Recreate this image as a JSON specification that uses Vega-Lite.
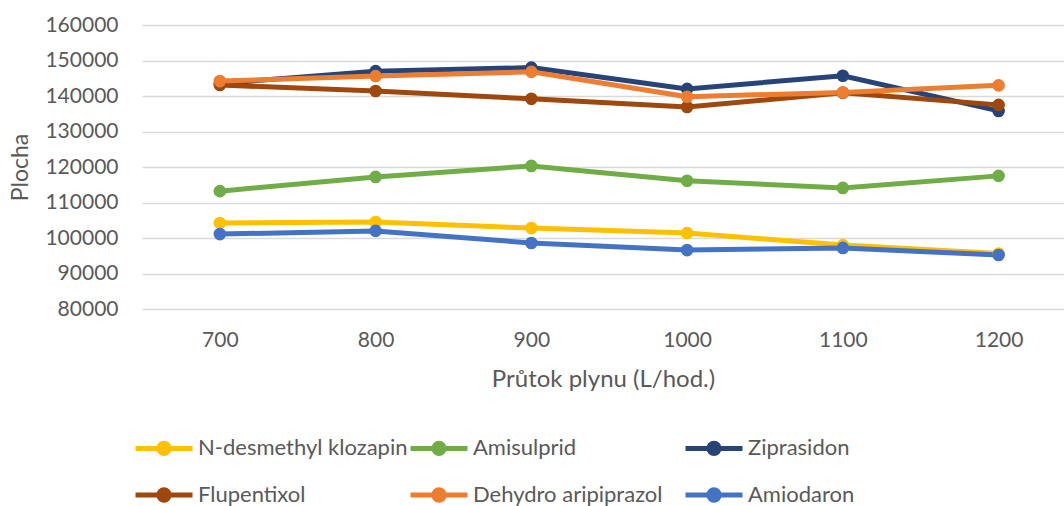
{
  "$schema": "https://vega.github.io/schema/vega-lite/v6.json",
  "width": 922,
  "height": 284,
  "autosize": "none",
  "padding": {"left": 142, "top": 25, "right": 0, "bottom": 197},
  "background": "white",
  "data": {"values": [
    {"flow": 700, "area": 104200, "compound": "N-desmethyl klozapin"},
    {"flow": 800, "area": 104500, "compound": "N-desmethyl klozapin"},
    {"flow": 900, "area": 102800, "compound": "N-desmethyl klozapin"},
    {"flow": 1000, "area": 101400, "compound": "N-desmethyl klozapin"},
    {"flow": 1100, "area": 98000, "compound": "N-desmethyl klozapin"},
    {"flow": 1200, "area": 95600, "compound": "N-desmethyl klozapin"},
    {"flow": 700, "area": 113200, "compound": "Amisulprid"},
    {"flow": 800, "area": 117200, "compound": "Amisulprid"},
    {"flow": 900, "area": 120300, "compound": "Amisulprid"},
    {"flow": 1000, "area": 116100, "compound": "Amisulprid"},
    {"flow": 1100, "area": 114100, "compound": "Amisulprid"},
    {"flow": 1200, "area": 117500, "compound": "Amisulprid"},
    {"flow": 700, "area": 143500, "compound": "Ziprasidon"},
    {"flow": 800, "area": 147000, "compound": "Ziprasidon"},
    {"flow": 900, "area": 148000, "compound": "Ziprasidon"},
    {"flow": 1000, "area": 142000, "compound": "Ziprasidon"},
    {"flow": 1100, "area": 145700, "compound": "Ziprasidon"},
    {"flow": 1200, "area": 135800, "compound": "Ziprasidon"},
    {"flow": 700, "area": 143100, "compound": "Flupentixol"},
    {"flow": 800, "area": 141400, "compound": "Flupentixol"},
    {"flow": 900, "area": 139200, "compound": "Flupentixol"},
    {"flow": 1000, "area": 136900, "compound": "Flupentixol"},
    {"flow": 1100, "area": 140900, "compound": "Flupentixol"},
    {"flow": 1200, "area": 137500, "compound": "Flupentixol"},
    {"flow": 700, "area": 144200, "compound": "Dehydro aripiprazol"},
    {"flow": 800, "area": 145600, "compound": "Dehydro aripiprazol"},
    {"flow": 900, "area": 146800, "compound": "Dehydro aripiprazol"},
    {"flow": 1000, "area": 139800, "compound": "Dehydro aripiprazol"},
    {"flow": 1100, "area": 141000, "compound": "Dehydro aripiprazol"},
    {"flow": 1200, "area": 143000, "compound": "Dehydro aripiprazol"},
    {"flow": 700, "area": 101100, "compound": "Amiodaron"},
    {"flow": 800, "area": 102000, "compound": "Amiodaron"},
    {"flow": 900, "area": 98600, "compound": "Amiodaron"},
    {"flow": 1000, "area": 96600, "compound": "Amiodaron"},
    {"flow": 1100, "area": 97200, "compound": "Amiodaron"},
    {"flow": 1200, "area": 95200, "compound": "Amiodaron"}
  ]},
  "mark": {"type": "line", "strokeWidth": 5, "point": {"filled": true, "size": 160}},
  "encoding": {
    "x": {
      "field": "flow", "type": "quantitative",
      "scale": {"domain": [650, 1242], "nice": false, "zero": false},
      "axis": {
        "values": [700, 800, 900, 1000, 1100, 1200],
        "format": "d",
        "title": "Průtok plynu (L/hod.)",
        "grid": false, "domain": false, "ticks": false,
        "labelPadding": 20, "labelFontSize": 21, "labelFont": "Lato", "labelColor": "#595959",
        "titleFont": "Lato", "titleFontSize": 24, "titleFontWeight": "normal", "titleColor": "#595959",
        "titlePadding": 17, "titleX": 461
      }
    },
    "y": {
      "field": "area", "type": "quantitative",
      "scale": {"domain": [80000, 160000], "nice": false, "zero": false},
      "axis": {
        "values": [80000, 90000, 100000, 110000, 120000, 130000, 140000, 150000, 160000],
        "format": "d",
        "title": "Plocha",
        "grid": true, "gridColor": "#d9d9d9", "gridWidth": 1.5,
        "domain": false, "ticks": false,
        "labelPadding": 24, "labelFontSize": 21, "labelFont": "Lato", "labelColor": "#595959",
        "titleFont": "Lato", "titleFontSize": 23, "titleFontWeight": "normal", "titleColor": "#595959",
        "titlePadding": 12
      }
    },
    "color": {
      "field": "compound", "type": "nominal",
      "scale": {
        "domain": ["N-desmethyl klozapin", "Amisulprid", "Ziprasidon", "Flupentixol", "Dehydro aripiprazol", "Amiodaron"],
        "range": ["#FFC000", "#70AD47", "#264478", "#9E480E", "#ED7D31", "#4472C4"]
      },
      "legend": {
        "title": null,
        "orient": "none",
        "legendX": -9,
        "legendY": 392,
        "direction": "horizontal",
        "columns": 3,
        "gridAlign": "all",
        "columnPadding": -12,
        "rowPadding": -17,
        "padding": 0,
        "symbolType": "M-1,0H1M-0.18,0A0.18,0.18,0,1,1,0.18,0A0.18,0.18,0,1,1,-0.18,0Z",
        "symbolSize": 3249,
        "symbolStrokeWidth": 5,
        "labelOffset": 3,
        "labelFont": "Lato",
        "labelFontSize": 22,
        "labelColor": "#595959",
        "labelLimit": 400,
        "encode": {
          "symbols": {"update": {
            "fill": {"scale": "color", "field": "value"},
            "stroke": {"scale": "color", "field": "value"},
            "opacity": {"value": 1}
          }}
        }
      }
    }
  },
  "config": {"view": {"stroke": null}}
}
